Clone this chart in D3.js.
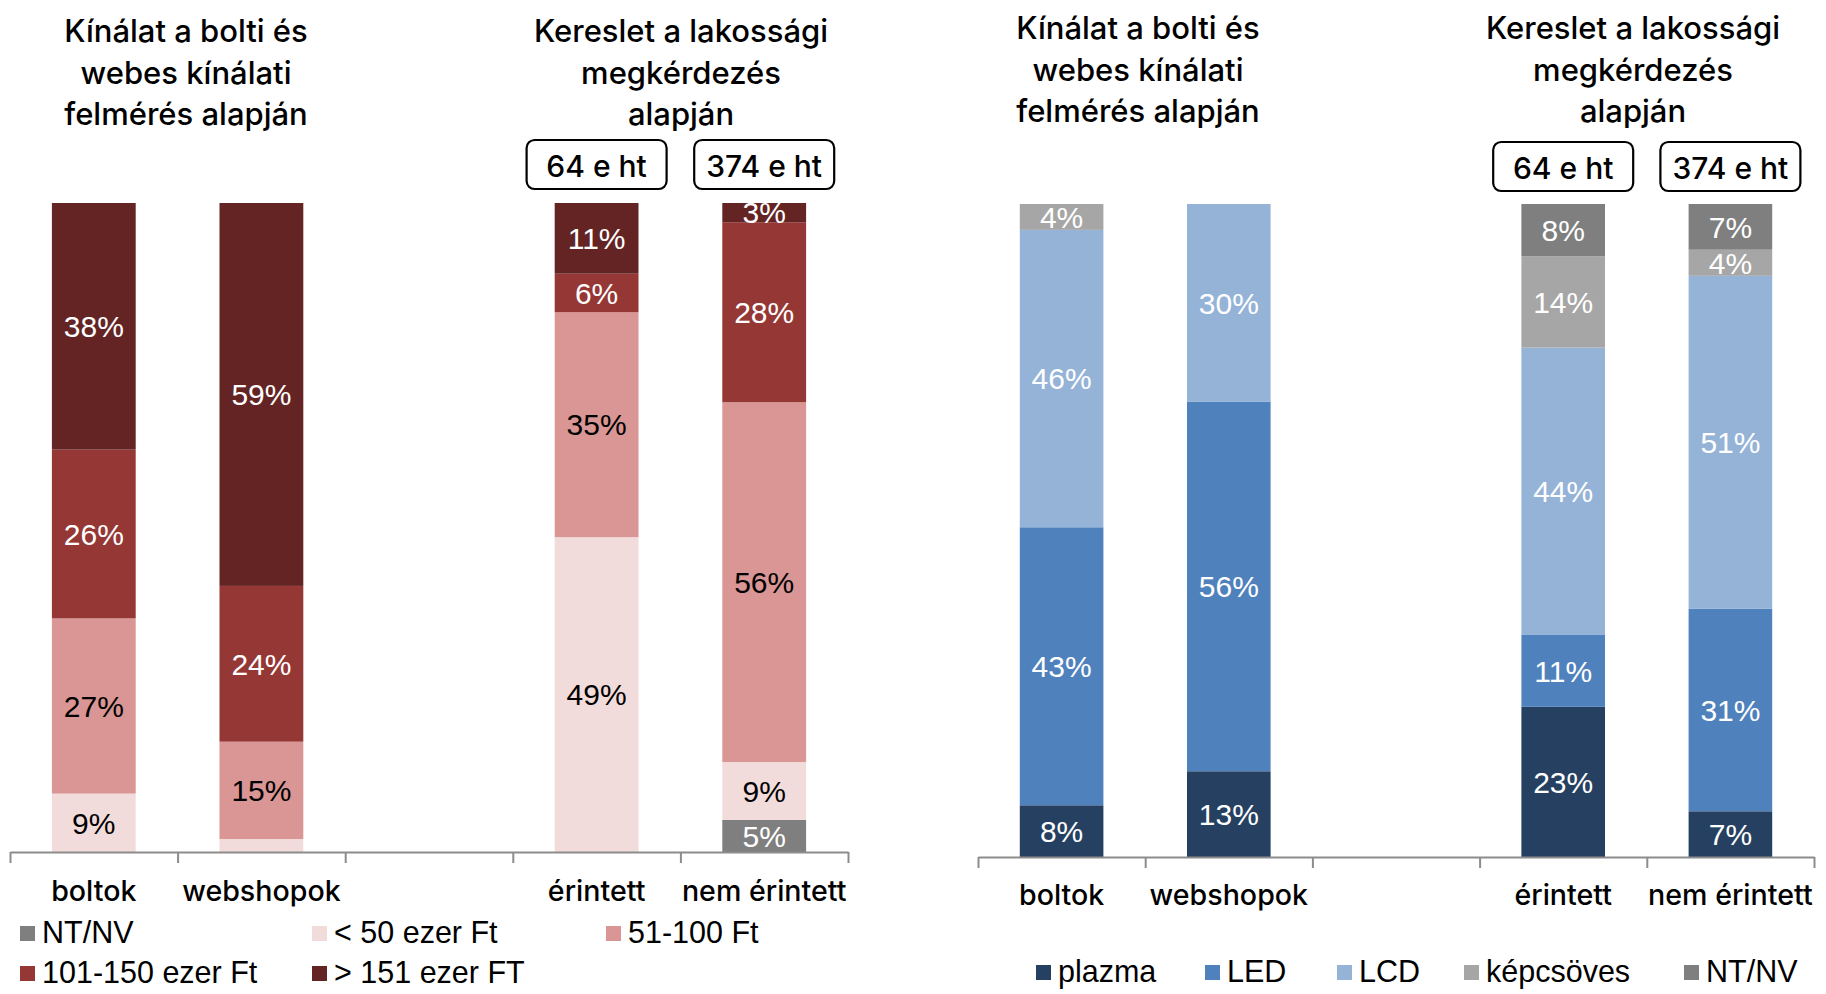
<!DOCTYPE html>
<html><head><meta charset="utf-8">
<script src="https://cdn.jsdelivr.net/npm/d3@7"></script>
<style>
html,body{margin:0;padding:0;background:#fff;}
svg{display:block;}
</style></head>
<body>
<svg id="chart" width="1826" height="994"></svg>
<script>
// ---- DATA ----
const categories = ["boltok", "webshopok", "", "érintett", "nem érintett"];
const householdBoxes = ["64 e ht", "374 e ht"];

const priceSeries = ["NT/NV", "< 50 ezer Ft", "51-100 Ft", "101-150 ezer Ft", "> 151 ezer FT"];
const priceNTNV   = [0, 0, null, 0, 5];
const priceBelow50 = [9, 2, null, 49, 9];
const price51to100 = [27, 15, null, 35, 56];
const price101to150 = [26, 24, null, 6, 28];
const priceAbove151 = [38, 59, null, 11, 3];
const priceColors = ["#7f7f7f", "#f2dcdb", "#d99694", "#953735", "#632423"];
const priceLabelColors = ["#fff", "#000", "#000", "#fff", "#fff"];

const tvSeries = ["plazma", "LED", "LCD", "képcsöves", "NT/NV"];
const tvPlazma = [8, 13, null, 23, 7];
const tvLED = [43, 56, null, 11, 31];
const tvLCD = [46, 30, null, 44, 51];
const tvKepcsoves = [4, 0, null, 14, 4];
const tvNTNV = [0, 0, null, 8, 7];
const tvColors = ["#254061", "#4f81bd", "#95b3d7", "#a6a6a6", "#7f7f7f"];
const tvLabelColors = ["#fff", "#fff", "#fff", "#fff", "#fff"];

const titleSupply = ["Kínálat a bolti és", "webes kínálati", "felmérés alapján"];
const titleDemand = ["Kereslet a lakossági", "megkérdezés", "alapján"];

const svg = d3.select("#chart");
const headFont = 'Inter,"Liberation Sans",Arial,sans-serif';
const labelFont = '"Liberation Sans",Arial,sans-serif';

function buildRows(seriesNames, arrays) {
  return categories.map((c, i) => {
    const row = { key: "c" + i, cat: c, empty: arrays[0][i] === null };
    seriesNames.forEach((s, j) => row[s] = arrays[j][i] === null ? 0 : arrays[j][i]);
    return row;
  });
}

function drawPanel(cfg) {
  const g = svg.append("g");
  const rows = buildRows(cfg.series, cfg.arrays);
  const x = d3.scaleBand().domain(rows.map(r => r.key)).range([cfg.x0, cfg.x1]).paddingInner(0.5).paddingOuter(0.25);
  const y = d3.scaleLinear().domain([0, 1]).range([cfg.base, cfg.top]);
  const stack = d3.stack().keys(cfg.series).offset(d3.stackOffsetExpand);
  const data = rows.filter(r => !r.empty);
  const layers = stack(data);

  const clipId = "clip" + cfg.id;
  svg.append("clipPath").attr("id", clipId).append("rect")
    .attr("x", cfg.x0).attr("y", cfg.top).attr("width", cfg.x1 - cfg.x0).attr("height", cfg.base - cfg.top);

  const layerG = g.selectAll("g.layer").data(layers).join("g").attr("class", "layer")
    .attr("fill", (d, i) => cfg.colors[i]);
  layerG.selectAll("rect").data(d => d).join("rect")
    .attr("x", d => x(d.data.key))
    .attr("width", x.bandwidth())
    .attr("y", d => y(d[1]))
    .attr("height", d => y(d[0]) - y(d[1]));

  const labG = g.append("g").attr("clip-path", `url(#${clipId})`);
  layers.forEach((layer, i) => {
    labG.selectAll(null).data(layer.filter(d => d.data[cfg.series[i]] >= 3)).join("text")
      .attr("x", d => x(d.data.key) + x.bandwidth() / 2)
      .attr("y", d => (y(d[0]) + y(d[1])) / 2)
      .attr("dy", "0.36em")
      .attr("text-anchor", "middle")
      .attr("font-family", labelFont)
      .attr("font-size", 30)
      .attr("fill", cfg.labelColors[i])
      .text(d => d.data[cfg.series[i]] + "%");
  });

  // axis with ticks at band boundaries
  const bx = d3.scaleLinear().domain([0, categories.length]).range([cfg.x0, cfg.x1]);
  const axis = d3.axisBottom(bx).tickValues(d3.range(categories.length + 1)).tickSize(11).tickSizeOuter(0).tickFormat("");
  const ag = g.append("g").attr("transform", `translate(0,${cfg.base})`).call(axis);
  ag.selectAll("path,line").attr("stroke", "#8c8c8c").attr("stroke-width", 2);

  // category labels
  const cg = g.append("g").attr("transform", `translate(0,${cfg.catY})`)
    .call(d3.axisBottom(x).tickSize(0).tickFormat((k, i) => categories[i]));
  cg.select(".domain").remove();
  cg.selectAll("text").attr("y", 0).attr("dy", 0).attr("font-family", headFont)
    .attr("font-size", 28.6).attr("font-weight", 500).attr("fill", "#000");

  // titles
  [[titleSupply, cfg.t1x], [titleDemand, cfg.t2x]].forEach(([lines, tx]) => {
    g.append("text").attr("text-anchor", "middle").attr("font-family", headFont).attr("font-size", 31)
      .attr("font-weight", 500).attr("fill", "#000")
      .selectAll("tspan").data(lines).join("tspan")
      .attr("x", tx).attr("y", (d, i) => cfg.titleY + i * 41.5).text(d => d);
  });

  // household boxes
  const boxKeys = ["c3", "c4"];
  boxKeys.forEach((k, i) => {
    const cx = x(k) + x.bandwidth() / 2;
    g.append("rect").attr("x", cx - 70).attr("y", cfg.boxY).attr("width", 140).attr("height", 49)
      .attr("rx", 8).attr("fill", "#fff").attr("stroke", "#000").attr("stroke-width", 2.2);
    g.append("text").attr("x", cx).attr("y", cfg.boxY + 37).attr("text-anchor", "middle")
      .attr("font-family", headFont).attr("font-size", 30).attr("font-weight", 500).attr("fill", "#000").text(householdBoxes[i]);
  });

  // legend
  cfg.legendPos.forEach((p, i) => {
    g.append("rect").attr("x", p[0]).attr("y", p[1] - 17).attr("width", 15).attr("height", 15).attr("fill", cfg.colors[i]);
    g.append("text").attr("x", p[0] + cfg.legendGap).attr("y", p[1]).attr("font-family", labelFont)
      .attr("font-size", 30.5).attr("fill", "#000").text(cfg.series[i]);
  });
}

drawPanel({
  id: "L", series: priceSeries,
  arrays: [priceNTNV, priceBelow50, price51to100, price101to150, priceAbove151],
  colors: priceColors, labelColors: priceLabelColors,
  x0: 10, x1: 848, top: 203, base: 852, catY: 901,
  t1x: 186, t2x: 681, titleY: 42, boxY: 140, legendGap: 22,
  legendPos: [[20, 943], [312, 943], [606, 943], [20, 983], [312, 983]]
});
drawPanel({
  id: "R", series: tvSeries,
  arrays: [tvPlazma, tvLED, tvLCD, tvKepcsoves, tvNTNV],
  colors: tvColors, labelColors: tvLabelColors,
  x0: 978, x1: 1814, top: 204, base: 857, catY: 905,
  t1x: 1138, t2x: 1633, titleY: 39, boxY: 142, legendGap: 22,
  legendPos: [[1036, 982], [1205, 982], [1337, 982], [1464, 982], [1684, 982]]
});
</script>
</body></html>
